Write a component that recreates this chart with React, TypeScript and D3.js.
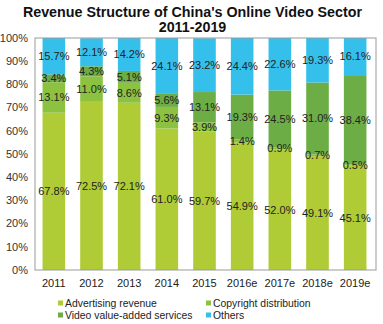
import React from "react";
import * as d3 from "d3";

const years = ["2011", "2012", "2013", "2014", "2015", "2016e", "2017e", "2018e", "2019e"];
const seriesNames = ["Advertising revenue", "Copyright distribution", "Video value-added services", "Others"];
const advertising = [67.8, 72.5, 72.1, 61.0, 59.7, 54.9, 52.0, 49.1, 45.1];
const copyright = [13.1, 11.0, 8.6, 9.3, 3.9, 1.4, 0.9, 0.7, 0.5];
const valueAdded = [3.4, 4.3, 5.1, 5.6, 13.1, 19.3, 24.5, 31.0, 38.4];
const others = [15.7, 12.1, 14.2, 24.1, 23.2, 24.4, 22.6, 19.3, 16.1];
const yTicks = [0, 10, 20, 30, 40, 50, 60, 70, 80, 90, 100];
const colors = ["#afcb35", "#8cc23f", "#6cad45", "#35c0ec"];

const W = 383;
const H = 324;
const left = 35;
const right = 376;
const top = 38;
const bottom = 270;
const font = "Arial, 'Liberation Sans', sans-serif";

export default function App() {
  const x = d3.scaleBand<string>().domain(years).range([left, right - 2]).paddingInner(0.4).paddingOuter(0.2);
  const y = d3.scaleLinear().domain([0, 100]).range([bottom, top]);
  const rows = years.map((yr, i) => ({
    year: yr,
    ad: advertising[i],
    cp: copyright[i],
    va: valueAdded[i],
    ot: others[i],
  }));
  const keys = ["ad", "cp", "va", "ot"];
  const stacked = d3.stack<any>().keys(keys)(rows);

  return (
    <svg width={W} height={H} style={{ position: "absolute", left: 0, top: 0, background: "#fff" }}>
      <text x={W / 2 + 1} y={17} textAnchor="middle" fontFamily={font} fontWeight="bold" fontSize={14.3} fill="#111">
        Revenue Structure of China's Online Video Sector
      </text>
      <text x={W / 2 + 1} y={32} textAnchor="middle" fontFamily={font} fontWeight="bold" fontSize={14.3} fill="#111">
        2011-2019
      </text>
      {stacked.map((s, si) => (
        <g key={si}>
          {s.map((d, i) => (
            <rect
              key={i}
              x={x(years[i])}
              width={x.bandwidth()}
              y={y(Math.min(d[1], 100))}
              height={y(d[0]) - y(Math.min(d[1], 100))}
              fill={colors[si]}
            />
          ))}
        </g>
      ))}
      {stacked.map((s, si) => (
        <g key={"l" + si}>
          {s.map((d, i) => (
            <text
              key={i}
              x={(x(years[i]) as number) + x.bandwidth() / 2}
              y={y((d[0] + Math.min(d[1], 100)) / 2)}
              dy="0.35em"
              textAnchor="middle"
              fontFamily={font}
              fontSize={11}
              fill="#222"
            >
              {(d[1] - d[0]).toFixed(1)}%
            </text>
          ))}
        </g>
      ))}
      <rect x={left} y={top} width={right - left} height={bottom - top} fill="none" stroke="#9a9a9a" strokeWidth={1} />
      {yTicks.map((t) => (
        <text key={t} x={28} y={y(t)} dy="0.35em" textAnchor="end" fontFamily={font} fontSize={11} fill="#333">
          {t}%
        </text>
      ))}
      {years.map((yr) => (
        <text
          key={yr}
          x={(x(yr) as number) + x.bandwidth() / 2}
          y={287}
          textAnchor="middle"
          fontFamily={font}
          fontSize={11}
          fill="#222"
        >
          {yr}
        </text>
      ))}
      {seriesNames.map((n, i) => {
        const lx = i % 2 === 0 ? 58 : 206;
        const ly = i < 2 ? 303 : 315;
        return (
          <g key={n}>
            <rect x={lx} y={ly - 2.5} width={5} height={5} fill={colors[i]} />
            <text x={lx + 7} y={ly} dy="0.35em" fontFamily={font} fontSize={10.4} fill="#222">
              {n}
            </text>
          </g>
        );
      })}
    </svg>
  );
}
